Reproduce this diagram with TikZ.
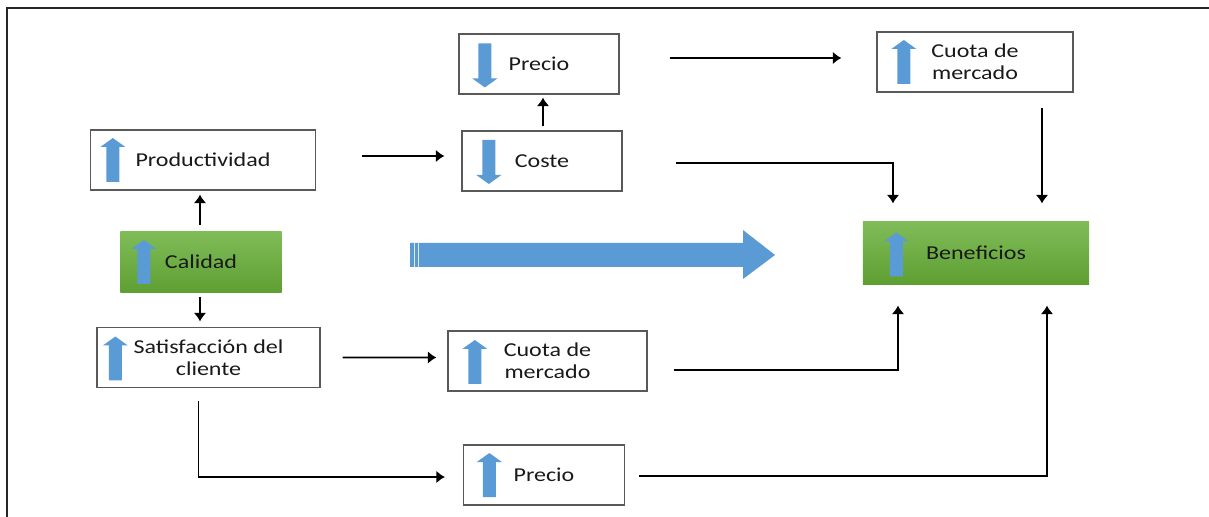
\documentclass[tikz,border=0pt]{standalone}
\usepackage{fontspec}
\setmainfont{Carlito}[FakeStretch=1.22]
\usetikzlibrary{calc,arrows.meta}
\definecolor{azul}{HTML}{5B9BD5}
\definecolor{verdeclaro}{HTML}{80BC58}
\definecolor{verdeoscuro}{HTML}{5E9F32}
\tikzset{
  caja/.style={draw=gray!70!black, line width=0.9pt, inner sep=0pt, minimum height=1.5cm,
    align=center, text=black!90, font=\fontsize{14}{15.5}\selectfont},
  verde/.style={caja, draw=none, top color=verdeclaro, bottom color=verdeoscuro},
  flecha/.style={->, >={Latex[length=6pt,width=9pt]}, line width=1.4pt},
  sube/.pic={\fill[azul] (-6.5,22) -- (-6.5,-13) -- (-12.5,-13) -- (0,-22) -- (12.5,-13) -- (6.5,-13) -- (6.5,22) -- cycle;},
  baja/.pic={\fill[azul] (-6.5,-22) -- (-6.5,13) -- (-12.5,13) -- (0,22) -- (12.5,13) -- (6.5,13) -- (6.5,-22) -- cycle;}
}
\begin{document}
\begin{tikzpicture}[x=0.025cm, y=-0.025cm]
	  \useasboundingbox (0,0) rectangle (1209,517);
	  \draw[line width=1.8pt, black!85] (7,517) -- (7,8) -- (1209,8);
	  % cajas
	  \node[caja, minimum width=4cm] (precioA) at (539,64) {Precio};
	  \node[caja, minimum width=4cm] (coste) at (542,161) {Coste};
	  \node[caja, minimum width=4.9cm] (cuotaA) at (975,62) {Cuota de\\mercado};
	  \node[caja, minimum width=5.625cm] (prod) at (203,160) {Productividad};
	  \node[verde, minimum width=4.025cm, minimum height=1.525cm] (calidad) at (201,262) {Calidad};
	  \node[verde, minimum width=5.65cm, minimum height=1.55cm] (benef) at (976,253) {Beneficios};
	  \node[caja, minimum width=5.575cm] (satis) at (208.5,357.5) {Satisfacción del\\cliente};
	  \node[caja, minimum width=4.975cm] (cuotaB) at (547.5,361) {Cuota de\\mercado};
	  \node[caja, minimum width=4.025cm] (precioB) at (544,475) {Precio};
	  % flechitas
	  \path (precioA.west) ++(26.5,1.5) pic {baja};
	  \path (coste.west) ++(27.5,1) pic {baja};
	  \path (cuotaA.west) ++(27.5,0) pic {sube};
	  \path (prod.west) ++(23,0) pic {sube};
	  \path (calidad.west) ++(24,0) pic {sube};
	  \path (benef.west) ++(34,1.5) pic {sube};
	  \path (satis.west) ++(19,1) pic {sube};
	  \path (cuotaB.west) ++(27.5,1) pic {sube};
	  \path (precioB.west) ++(26.5,0) pic {sube};
	  % flecha grande
	  \fill[azul] (410,243) -- (743,243) -- (743,230) -- (775,255) -- (743,279) -- (743,267) -- (410,267) -- cycle;
	  \draw[white!80!azul, line width=0.6pt] (414,243) -- (414,267);
	  \draw[white!80!azul, line width=0.6pt] (418,243) -- (418,267);
	  % conexiones
	  \draw[flecha] ($(calidad.north)+(-1,-6)$) -- ($(prod.south)+(-3,4)$);
	  \draw[flecha] ($(calidad.south)+(-1,3.5)$) -- ($(satis.north)+(-8.5,-5.5)$);
	  \draw[flecha] ($(prod.east)+(46,-4)$) -- ($(coste.west)+(-17,-5)$);
	  \draw[flecha] ($(coste.north)+(1,-4)$) -- ($(precioA.south)+(4,3)$);
	  \draw[flecha] ($(precioA.east)+(50,-6)$) -- ($(cuotaA.west)+(-35,-4)$);
	  \draw[flecha] ($(coste.east)+(53,2)$) -| ($(benef.north)+(-83,-18)$);
	  \draw[flecha] ($(cuotaA.south)+(67,15)$) -- ($(benef.north)+(66,-18)$);
	  \draw[flecha] ($(satis.east)+(22,0)$) -- ($(cuotaB.west)+(-11,-3.5)$);
	  \draw[flecha] ($(cuotaB.east)+(26,9)$) -| ($(benef.south)+(-78,21)$);
	  \draw[flecha] ($(satis.south)+(-10,13)$) |- ($(precioB.west)+(-18,2)$);
	  \draw[flecha] ($(precioB.east)+(14,1)$) -| ($(benef.south)+(71,21)$);
	\end{tikzpicture}
\end{document}
